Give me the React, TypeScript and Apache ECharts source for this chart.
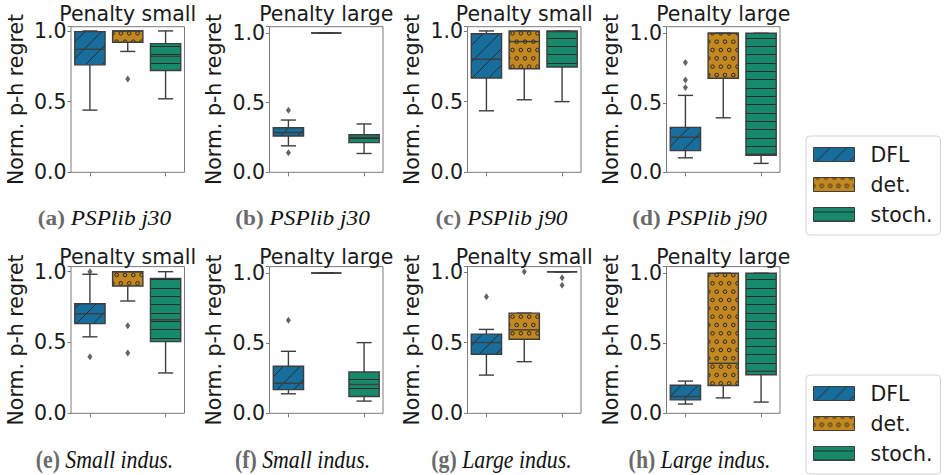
import React, { useEffect, useRef } from 'react';
import * as echarts from 'echarts';

// ---------- data ----------
const categories = ['DFL', 'det.', 'stoch.'];
const methodNames = ['DFL', 'det.', 'stoch.'];
const panelTitles = ['Penalty small', 'Penalty large', 'Penalty small', 'Penalty large',
  'Penalty small', 'Penalty large', 'Penalty small', 'Penalty large'];
const captionLabels = ['(a)', '(b)', '(c)', '(d)', '(e)', '(f)', '(g)', '(h)'];
const captionTexts = ['PSPlib j30', 'PSPlib j30', 'PSPlib j90', 'PSPlib j90',
  'Small indus.', 'Small indus.', 'Large indus.', 'Large indus.'];
const yAxisName = 'Norm. p-h regret';
const yMax = [1.03, 1.045, 1.03, 1.047, 1.036, 1.046, 1.037, 1.047];

// box stats: [lower whisker, Q1, median, Q3, upper whisker]
const dflBoxes = [
  [0.44, 0.76, 0.87, 0.995, 1.0],
  [0.19, 0.26, 0.285, 0.32, 0.375],
  [0.435, 0.667, 0.8, 0.98, 1.0],
  [0.104, 0.156, 0.252, 0.323, 0.553],
  [0.54, 0.633, 0.703, 0.774, 0.982],
  [0.139, 0.169, 0.214, 0.336, 0.442],
  [0.27, 0.417, 0.5, 0.56, 0.593],
  [0.066, 0.096, 0.12, 0.2, 0.23],
];
const detBoxes = [
  [0.855, 0.92, 1.0, 1.0, 1.0],
  [1.0, 1.0, 1.0, 1.0, 1.0],
  [0.513, 0.733, 0.925, 1.0, 1.0],
  [0.392, 0.676, 1.0, 1.0, 1.0],
  [0.793, 0.899, 1.0, 1.0, 1.0],
  [1.0, 1.0, 1.0, 1.0, 1.0],
  [0.365, 0.523, 0.59, 0.708, 0.708],
  [0.11, 0.198, 0.357, 1.0, 1.0],
];
const stochBoxes = [
  [0.52, 0.72, 0.82, 0.91, 1.0],
  [0.135, 0.213, 0.25, 0.27, 0.347],
  [0.5, 0.745, 0.995, 1.0, 1.0],
  [0.064, 0.123, 0.13, 1.0, 1.0],
  [0.285, 0.506, 0.661, 0.953, 1.0],
  [0.087, 0.12, 0.205, 0.294, 0.504],
  [1.0, 1.0, 1.0, 1.0, 1.0],
  [0.08, 0.275, 0.3, 1.0, 1.0],
];
const dflOutliers = [[], [0.445, 0.14], [], [0.79, 0.664, 0.61], [1.0, 0.4], [0.664], [0.823], []];
const detOutliers = [[0.66], [], [], [], [0.619, 0.426], [], [1.0], []];
const stochOutliers = [[], [], [], [], [], [], [0.958, 0.906], []];

// ---------- layout & style ----------
const FONT = 'DejaVu Sans';
const SERIF = 'Liberation Serif';
const FS = 20.5;
const EDGE = '#3d3d3d';
const SPINE = '#7a7a7a';
const TEXT = '#1a1a1a';
const COLORS = ['#176d9c', '#c38820', '#168a6a'];
const GRID_LEFTS = [71, 269.5, 467.5, 666.5];
const GRID_WIDTH = 113.5;
const ROW_BOTTOMS = [172.3, 413.3];
const ROW_HEIGHTS = [145.6, 146.7];
const TITLE_Y = [14, 256.5];
const CAPTION_X = [104.5, 302.5, 501.5, 699.5];
const CAPTION_Y = [218, 459];
const CAPTION_FS = [22, 26];
const CAPTION_SCALE = [1.06, 0.84];

function makePattern(kind: string, color: string) {
  const S = 50;
  const c = document.createElement('canvas');
  c.width = S;
  c.height = S;
  const ctx = c.getContext('2d')!;
  ctx.fillStyle = color;
  ctx.fillRect(0, 0, S, S);
  ctx.strokeStyle = '#2a2a2a';
  ctx.lineWidth = 1;
  if (kind === 'slash') {
    const n = 3;
    const step = S / n;
    for (let k = -n; k <= 2 * n; k++) {
      const o = k * step;
      ctx.beginPath();
      ctx.moveTo(o, S);
      ctx.lineTo(o + S, 0);
      ctx.stroke();
    }
  } else if (kind === 'circle') {
    const n = 6;
    const step = S / n;
    for (let r = 0; r <= n; r++) {
      const y = r * step;
      const off = r % 2 ? 0 : step / 2;
      for (let k = -1; k <= n; k++) {
        const x = k * step + off;
        ctx.beginPath();
        ctx.arc(x, y, 1.8, 0, Math.PI * 2);
        ctx.stroke();
      }
    }
  } else {
    const n = 6;
    const step = S / n;
    for (let r = 0; r < n; r++) {
      const y = Math.round(r * step + step / 2) + 0.5;
      ctx.beginPath();
      ctx.moveTo(0, y);
      ctx.lineTo(S, y);
      ctx.stroke();
    }
  }
  return { image: c.toDataURL(), repeat: 'repeat', imageWidth: S, imageHeight: S };
}

export default function App() {
  const ref = useRef<HTMLDivElement>(null);
  useEffect(() => {
    const chart = echarts.init(ref.current!, null, { renderer: 'svg' });
    const patterns = [
      makePattern('slash', COLORS[0]),
      makePattern('circle', COLORS[1]),
      makePattern('hline', COLORS[2]),
    ];
    const boxes = [dflBoxes, detBoxes, stochBoxes];
    const outliers = [dflOutliers, detOutliers, stochOutliers];

    const renderBox = (fill: any) => (params: any, api: any) => {
      const xi = api.value(0);
      const pLo = api.coord([xi, api.value(1)]);
      const pQ1 = api.coord([xi, api.value(2)]);
      const pMed = api.coord([xi, api.value(3)]);
      const pQ3 = api.coord([xi, api.value(4)]);
      const pHi = api.coord([xi, api.value(5)]);
      const band = api.size([1, 0])[0];
      const bw = band * 0.8;
      const cx = pMed[0];
      const line = (x1: number, y1: number, x2: number, y2: number) => ({
        type: 'line',
        shape: { x1, y1, x2, y2 },
        style: { stroke: EDGE, lineWidth: 1.4 },
      });
      return {
        type: 'group',
        children: [
          line(cx, pHi[1], cx, pQ3[1]),
          line(cx, pQ1[1], cx, pLo[1]),
          line(cx - bw / 4, pHi[1], cx + bw / 4, pHi[1]),
          line(cx - bw / 4, pLo[1], cx + bw / 4, pLo[1]),
          {
            type: 'rect',
            shape: { x: cx - bw / 2, y: pQ3[1], width: bw, height: pQ1[1] - pQ3[1] },
            style: { fill, stroke: EDGE, lineWidth: 1.4 },
          },
          line(cx - bw / 2, pMed[1], cx + bw / 2, pMed[1]),
        ],
      };
    };

    const grids: any[] = [];
    const xAxes: any[] = [];
    const yAxes: any[] = [];
    const series: any[] = [];
    const graphics: any[] = [];

    for (let p = 0; p < 8; p++) {
      const row = Math.floor(p / 4);
      const col = p % 4;
      const top = ROW_BOTTOMS[row] - ROW_HEIGHTS[row];
      grids.push({
        left: GRID_LEFTS[col], top, width: GRID_WIDTH, height: ROW_HEIGHTS[row],
        show: true, borderColor: SPINE, borderWidth: 1, backgroundColor: 'transparent',
      });
      xAxes.push({
        type: 'category', gridIndex: p, data: categories, boundaryGap: true,
        axisLine: { show: false }, axisLabel: { show: false },
        axisTick: { show: true, alignWithLabel: true, length: 4, lineStyle: { color: SPINE } },
        splitLine: { show: false },
      });
      yAxes.push({
        type: 'value', gridIndex: p, min: 0, max: yMax[p], interval: 0.5,
        axisLine: { show: false },
        axisTick: { show: true, length: 3.5, lineStyle: { color: SPINE } },
        splitLine: { show: false },
        axisLabel: {
          margin: 4.5, fontFamily: FONT, fontSize: FS, color: TEXT,
          formatter: (v: number) => (Math.abs(v * 2 - Math.round(v * 2)) < 1e-6 ? v.toFixed(1) : ''),
        },
        name: yAxisName, nameLocation: 'middle', nameGap: 45,
        nameTextStyle: { fontFamily: FONT, fontSize: FS, color: TEXT },
      });
      for (let m = 0; m < 3; m++) {
        series.push({
          type: 'custom', name: methodNames[m], xAxisIndex: p, yAxisIndex: p,
          data: [[categories[m], ...boxes[m][p]]],
          encode: { x: 0, y: [1, 2, 3, 4, 5] },
          renderItem: renderBox(patterns[m]),
          itemStyle: { color: COLORS[m] },
          z: 2, silent: true,
        });
        if (outliers[m][p].length) {
          series.push({
            type: 'scatter', name: 'outliers', xAxisIndex: p, yAxisIndex: p,
            data: outliers[m][p].map((v) => [categories[m], v]),
            symbol: 'diamond', symbolSize: [5, 7],
            itemStyle: { color: EDGE }, z: 3, silent: true,
          });
        }
      }
      graphics.push({
        type: 'text', x: GRID_LEFTS[col] + GRID_WIDTH / 2, y: TITLE_Y[row],
        style: {
          text: panelTitles[p], fontFamily: FONT, fontSize: FS, fill: TEXT,
          align: 'center', verticalAlign: 'middle', textAlign: 'center', textVerticalAlign: 'middle',
        },
      });
      const cfs = CAPTION_FS[row];
      graphics.push({
        type: 'text', x: CAPTION_X[col], y: CAPTION_Y[row],
        scaleX: CAPTION_SCALE[row],
        style: {
          text: `{b|${captionLabels[p]}} {i|${captionTexts[p]}}`,
          fontFamily: SERIF, fontSize: cfs, fill: '#111',
          align: 'center', verticalAlign: 'middle', textAlign: 'center', textVerticalAlign: 'middle',
          rich: {
            b: { fontFamily: SERIF, fontSize: cfs, fontWeight: 'bold', fill: '#6a6a6a', fontStyle: 'normal' },
            i: { fontFamily: SERIF, fontSize: cfs, fontStyle: 'italic', fill: '#111' },
          },
        },
      });
    }

    const legendAt = (top: number) => ({
      orient: 'vertical', left: 806, top, itemWidth: 41, itemHeight: 14, itemGap: 9,
      padding: [8, 8, 10, 7], borderColor: '#d4d4d4', borderWidth: 1, borderRadius: 4,
      backgroundColor: '#fff', selectedMode: false,
      textStyle: { fontFamily: FONT, fontSize: FS, color: TEXT, lineHeight: 20, padding: [0, 0, 0, 11] },
      data: methodNames.map((n, i) => ({
        name: n, icon: 'rect',
        itemStyle: { color: patterns[i], borderColor: EDGE, borderWidth: 1 },
      })),
    });

    chart.setOption({
      animation: false,
      backgroundColor: '#ffffff',
      grid: grids,
      xAxis: xAxes,
      yAxis: yAxes,
      series,
      legend: [legendAt(136), legendAt(375)],
      graphic: { elements: graphics },
    });
    return () => chart.dispose();
  }, []);
  return (
    <div
      ref={ref}
      style={{ position: 'fixed', left: 0, top: 0, width: 946, height: 475, background: '#fff' }}
    />
  );
}
